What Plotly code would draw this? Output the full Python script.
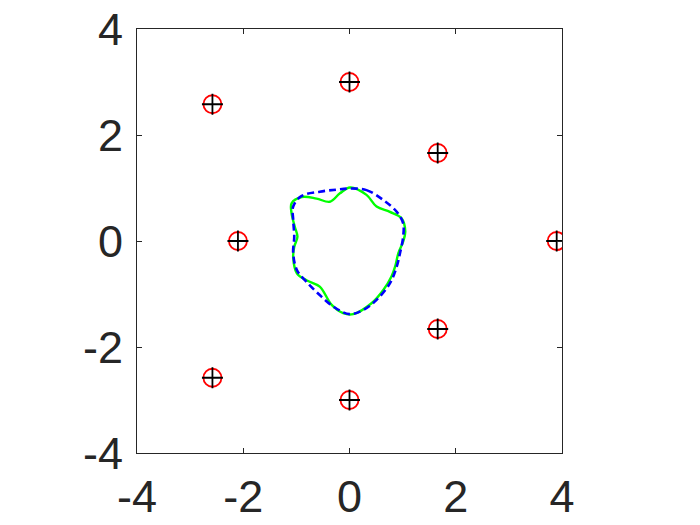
import plotly.graph_objects as go

# Point sources (red circles + black plus)
pts_x = [0.0, -2.58, 1.66, -2.1, 3.9, 1.66, -2.58, 0.0]
pts_y = [3.0, 2.58, 1.66, 0.0, 0.0, -1.66, -2.58, -3.0]

# Green solid curve
green_x = [0.01, 0.32, 0.51, 0.76, 0.98, 1.05, 1.01, 0.92, 0.86, 0.79, 0.64, 0.42, 0.07, -0.12,
           -0.34, -0.56, -0.81, -0.99, -1.06, -1.04, -0.98, -1.03, -1.09, -1.09, -0.9, -0.62,
           -0.37, -0.18, 0.01]
green_y = [1.01, 0.87, 0.65, 0.55, 0.43, 0.18, -0.01, -0.23, -0.48, -0.67, -0.92, -1.17, -1.38,
           -1.36, -1.2, -0.86, -0.74, -0.61, -0.3, -0.11, 0.08, 0.27, 0.52, 0.71, 0.83, 0.8,
           0.74, 0.9, 1.01]

# Blue dashed curve
blue_x = [0.0, 0.32, 0.64, 0.89, 1.01, 1.01, 0.95, 0.89, 0.76, 0.51, 0.26, 0.0, -0.3, -0.56,
          -0.81, -0.99, -1.06, -1.04, -1.06, -1.06, -0.9, -0.56, -0.24, 0.0]
blue_y = [0.99, 0.96, 0.77, 0.55, 0.33, 0.08, -0.23, -0.48, -0.8, -1.11, -1.3, -1.38, -1.24,
          -1.02, -0.77, -0.55, -0.23, 0.08, 0.4, 0.65, 0.85, 0.93, 0.97, 0.99]

ticks = [-4, -2, 0, 2, 4]
tick_text = ["-4", "-2", "0", "2", "4"]

fig = go.Figure()
fig.add_trace(go.Scatter(x=green_x, y=green_y, mode="lines", line=dict(color="#00FF00", width=2.4, shape="spline"),
                         hoverinfo="skip"))
fig.add_trace(go.Scatter(x=blue_x, y=blue_y, mode="lines", line=dict(color="#0000FF", width=2.6, dash="7px,4px", shape="spline"),
                         hoverinfo="skip"))
fig.add_trace(go.Scatter(x=pts_x, y=pts_y, mode="markers",
                         marker=dict(symbol="circle-open", size=18, color="#FF0000", line=dict(width=1.8))))
fig.add_trace(go.Scatter(x=pts_x, y=pts_y, mode="markers",
                         marker=dict(symbol="cross-thin-open", size=15, color="#000000", line=dict(width=1.8, color="#000000"))))

axis_common = dict(range=[-4, 4], tickvals=ticks, ticktext=tick_text, showgrid=False, zeroline=False,
                   showline=True, linecolor="#262626", linewidth=1, mirror="ticks", ticks="inside",
                   ticklen=5, tickcolor="#262626", tickwidth=1, automargin=False,
                   ticklabeloverflow="allow",
                   tickfont=dict(family="Liberation Sans, Arial", size=45, color="#262626"))

fig.update_layout(
    width=692, height=517,
    margin=dict(l=129, r=138, t=21, b=72),
    plot_bgcolor="white", paper_bgcolor="white",
    showlegend=False,
    xaxis=dict(**axis_common, ticklabelstandoff=4),
    yaxis=dict(**axis_common, ticklabelstandoff=4),
)
fig.write_html("out.html")
